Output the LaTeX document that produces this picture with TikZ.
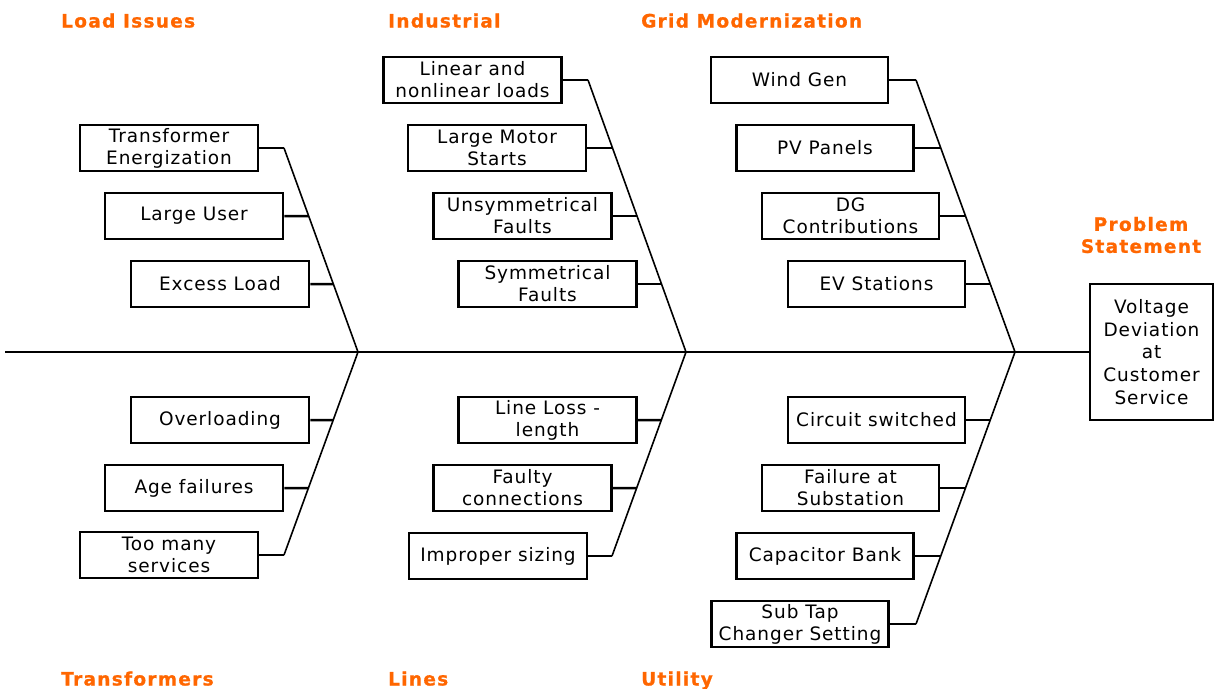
\documentclass[tikz,border=0pt]{standalone}
\usepackage{fontspec}
\usetikzlibrary{calc}
\setmainfont{DejaVu Sans}
\newfontfamily\bodyfont{DejaVu Sans}[LetterSpace=5]
\newfontfamily\headfont{DejaVu Sans Bold}[LetterSpace=7, FakeBold=1]
\definecolor{headorange}{RGB}{255,102,0}
\begin{document}
\begin{tikzpicture}[x=1pt,y=-1pt,
  cause/.style={draw, line width=2.6pt, minimum width=178pt, minimum height=46pt, inner sep=0pt, align=center, font=\bodyfont\fontsize{18.5}{22}\selectfont},
  head/.style={text=headorange, font=\headfont\fontsize{18.5}{22}\selectfont, anchor=base west, inner sep=0pt},
  bone/.style={line width=1.6pt},
  twig/.style={line width=2.5pt}]
\useasboundingbox (0,0) rectangle (1214,688);
% headings
\node[head] (hLoad) at (61,27.5) {Load Issues};
\node[head] (hInd) at (388,27.5) {Industrial};
\node[head] (hGrid) at (641,27.5) {Grid Modernization};
\node[head] (hTr) at (61,685.5) {Transformers};
\node[head] (hLines) at (388,685.5) {Lines};
\node[head] (hUt) at (641,685.5) {Utility};
\node[head, anchor=center, align=center] (hPS) at (1141,235) {Problem\\Statement};
% problem box
\node[cause, minimum width=123pt, minimum height=136pt, font=\bodyfont\fontsize{18.5}{22.75}\selectfont] (PS) at (1151.5,352) {Voltage\\Deviation\\at\\Customer\\Service};
% spine
\coordinate (S) at (5,352);
\coordinate (J1) at (358,352);
\coordinate (J2) at (686,352);
\coordinate (J3) at (1015,352);
\draw[bone] (S) -- (PS.west);
% bone tips
\coordinate (T1) at (284,148);
\coordinate (T2) at (284,555);
\coordinate (T3) at (588,80);
\coordinate (T4) at (612,556);
\coordinate (T5) at (916,80);
\coordinate (T6) at (916,624);
\draw[bone] (T1) -- (J1) -- (T2);
\draw[bone] (T3) -- (J2) -- (T4);
\draw[bone] (T5) -- (J3) -- (T6);
% left causes
\node[cause] (TE) at (169,148) {Transformer\\Energization};
\node[cause] (LU) at (194,216) {Large User};
\node[cause] (EL) at (220,284) {Excess Load};
\node[cause] (OV) at (220,420) {Overloading};
\node[cause] (AF) at (194,488) {Age failures};
\node[cause] (TM) at (169,555) {Too many\\services};
% middle causes
\node[cause] (LN) at (472.5,80) {Linear and\\nonlinear loads};
\node[cause] (LM) at (497,148) {Large Motor\\Starts};
\node[cause] (UF) at (522.5,216) {Unsymmetrical\\Faults};
\node[cause] (SF) at (547.5,284) {Symmetrical\\Faults};
\node[cause] (LL) at (547.5,420) {Line Loss -\\length};
\node[cause] (FC) at (522.5,488) {Faulty\\connections};
\node[cause] (IS) at (498,556) {Improper sizing};
% right causes
\node[cause, minimum width=177pt] (WG) at (799.5,80) {Wind Gen};
\node[cause, minimum width=177pt] (PV) at (825,148) {PV Panels};
\node[cause, minimum width=177pt] (DG) at (850.5,216) {DG\\Contributions};
\node[cause, minimum width=177pt] (EV) at (876.5,284) {EV Stations};
\node[cause, minimum width=177pt] (CS) at (876.5,420) {Circuit switched};
\node[cause, minimum width=177pt] (FS) at (850.5,488) {Failure at\\Substation};
\node[cause, minimum width=177pt] (CB) at (825,556) {Capacitor Bank};
\node[cause, minimum width=177pt] (ST) at (800,624) {Sub Tap\\Changer Setting};
% twigs
\draw[twig] (TE.east) -- (T1);
\draw[twig] (LU.east) -- ($(J1)!2/3!(T1)$);
\draw[twig] (EL.east) -- ($(J1)!1/3!(T1)$);
\draw[twig] (OV.east) -- ($(J1)!68/203!(T2)$);
\draw[twig] (AF.east) -- ($(J1)!136/203!(T2)$);
\draw[twig] (TM.east) -- (T2);
\draw[twig] (LN.east) -- (T3);
\draw[twig] (LM.east) -- ($(J2)!0.75!(T3)$);
\draw[twig] (UF.east) -- ($(J2)!0.5!(T3)$);
\draw[twig] (SF.east) -- ($(J2)!0.25!(T3)$);
\draw[twig] (LL.east) -- ($(J2)!1/3!(T4)$);
\draw[twig] (FC.east) -- ($(J2)!2/3!(T4)$);
\draw[twig] (IS.east) -- (T4);
\draw[twig] (WG.east) -- (T5);
\draw[twig] (PV.east) -- ($(J3)!0.75!(T5)$);
\draw[twig] (DG.east) -- ($(J3)!0.5!(T5)$);
\draw[twig] (EV.east) -- ($(J3)!0.25!(T5)$);
\draw[twig] (CS.east) -- ($(J3)!0.25!(T6)$);
\draw[twig] (FS.east) -- ($(J3)!0.5!(T6)$);
\draw[twig] (CB.east) -- ($(J3)!0.75!(T6)$);
\draw[twig] (ST.east) -- (T6);
\end{tikzpicture}
\end{document}
